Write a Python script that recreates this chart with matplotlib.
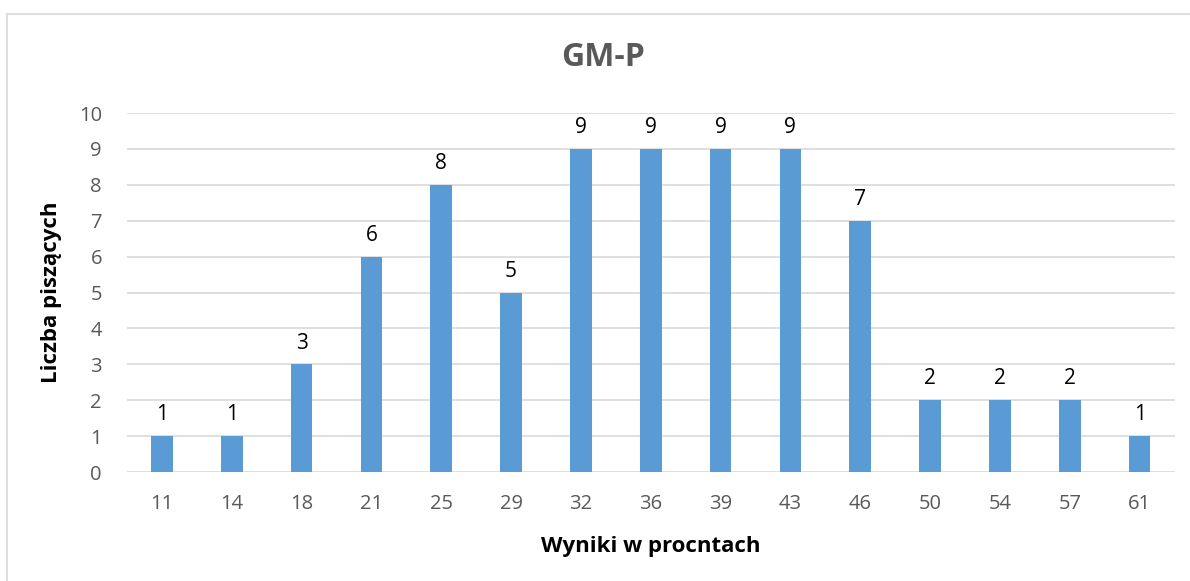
import matplotlib
matplotlib.use("Agg")
import matplotlib.pyplot as plt
from matplotlib.lines import Line2D

# data
wyniki = ["11", "14", "18", "21", "25", "29", "32", "36", "39", "43", "46", "50", "54", "57", "61"]
liczba = [1, 1, 3, 6, 8, 5, 9, 9, 9, 9, 7, 2, 2, 2, 1]
y_ticks = list(range(0, 11))

plt.rcParams['font.family'] = ['Open Sans', 'DejaVu Sans']

fig = plt.figure(figsize=(11.9, 5.81), dpi=100)
ax = fig.add_axes([0.1067, 0.1876, 0.8803, 0.6179])

x = list(range(len(wyniki)))
bars = ax.bar(x, liczba, width=0.31, color='#5B9BD5', zorder=3)

for xi, v in zip(x, liczba):
    ax.text(xi, v + 0.3, str(v), ha='center', va='bottom', fontsize=15, color='black')

ax.set_xlim(-0.5, len(wyniki) - 0.5)
ax.set_ylim(0, 10)
ax.set_yticks(y_ticks)
ax.set_xticks(x)
ax.set_xticklabels(wyniki)
ax.tick_params(axis='both', length=0, labelsize=14.5, labelcolor='#595959')
ax.tick_params(axis='x', pad=16)
ax.tick_params(axis='y', pad=18)
ax.grid(axis='y', color='#D9D9D9', linewidth=1.2, zorder=0)
for s in ax.spines.values():
    s.set_visible(False)

# title is centred on the whole chart area, not on the plot area
fig.text(603 / 1190, 1 - 58 / 581, 'GM-P', ha='center', va='center',
         fontsize=23, fontweight='bold', color='#595959')
ax.set_xlabel('Wyniki w procntach', fontsize=16, fontweight='bold', labelpad=16)
ax.set_ylabel('Liczba piszących', fontsize=16, fontweight='bold', labelpad=12)

# chart border (only left and top edges are visible in the picture)
fig.add_artist(Line2D([7 / 1190, 7 / 1190], [0, 1 - 14 / 581], color='#D9D9D9', linewidth=1.2, transform=fig.transFigure))
fig.add_artist(Line2D([7 / 1190, 1], [1 - 14 / 581, 1 - 14 / 581], color='#D9D9D9', linewidth=1.2, transform=fig.transFigure))

fig.savefig('out.png', dpi=100)
